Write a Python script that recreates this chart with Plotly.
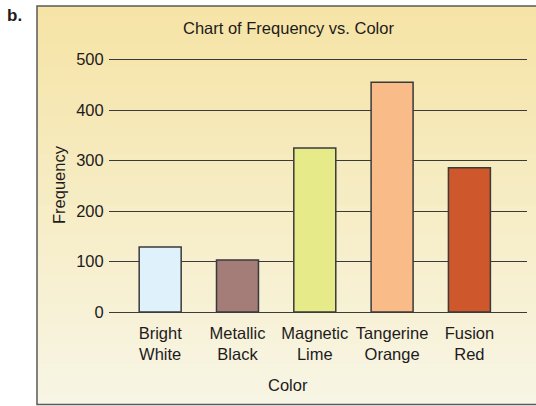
import plotly.graph_objects as go

categories = ["Bright<br>White", "Metallic<br>Black", "Magnetic<br>Lime", "Tangerine<br>Orange", "Fusion<br>Red"]
frequencies = [129, 103, 325, 455, 286]
bar_colors = ["#DFF1FA", "#A57D78", "#E6EA88", "#F9BC88", "#CE572B"]
y_ticks = [0, 100, 200, 300, 400, 500]

W, H = 536, 406
ML, MR, MT, MB = 109, 9, 58, 94
PW, PH = W - ML - MR, H - MT - MB
YMAX = PH / 0.5047

def px_x(p):
    return (p - ML) / PW

def px_y(p):
    return (H - MB - p) / PH

FONT = "Liberation Sans, Arial, sans-serif"
TXT = "#1e1b1c"

fig = go.Figure()
fig.add_trace(go.Bar(
    x=list(range(len(categories))),
    y=frequencies,
    width=0.543,
    marker=dict(color=bar_colors, line=dict(color="#3a3a3a", width=1.5)),
    hoverinfo="skip",
))

# gradient background panel
shapes = []
top_c = (246, 228, 166)
bot_c = (247, 245, 228)
y0p, y1p = 6, 404
n = 40
for i in range(n):
    t = i / (n - 1)
    c = tuple(round(top_c[k] + (bot_c[k] - top_c[k]) * t) for k in range(3))
    ya = y0p + (y1p - y0p) * i / n
    yb = y0p + (y1p - y0p) * (i + 1) / n + 0.6
    shapes.append(dict(type="rect", xref="paper", yref="paper",
                       x0=px_x(37), x1=px_x(540), y0=px_y(min(yb, y1p)), y1=px_y(ya),
                       fillcolor="rgb(%d,%d,%d)" % c, line=dict(width=0), layer="below"))
shapes.append(dict(type="rect", xref="paper", yref="paper",
                   x0=px_x(37), x1=px_x(541), y0=px_y(404.5), y1=px_y(6),
                   fillcolor="rgba(0,0,0,0)", line=dict(color="#5a5a5a", width=1.5), layer="above"))

annotations = [
    dict(text="Chart of Frequency vs. Color", xref="paper", yref="paper",
         x=px_x(288.5), y=px_y(28.5), showarrow=False, xanchor="center", yanchor="middle",
         font=dict(family=FONT, size=16.5, color=TXT)),
    dict(text="Color", xref="paper", yref="paper",
         x=px_x(288), y=px_y(385), showarrow=False, xanchor="center", yanchor="middle",
         font=dict(family=FONT, size=16.5, color=TXT)),
    dict(text="<b>b.</b>", xref="paper", yref="paper",
         x=px_x(5), y=px_y(15), showarrow=False, xanchor="left", yanchor="middle",
         font=dict(family=FONT, size=17, color=TXT)),
]

fig.update_layout(
    width=W, height=H,
    margin=dict(l=ML, r=MR, t=MT, b=MB, pad=0),
    paper_bgcolor="white",
    plot_bgcolor="rgba(0,0,0,0)",
    showlegend=False,
    shapes=shapes,
    annotations=annotations,
    font=dict(family=FONT, size=16, color=TXT),
    xaxis=dict(
        range=[-0.662, 4.745],
        tickmode="array",
        tickvals=list(range(len(categories))),
        ticktext=categories,
        showgrid=False, zeroline=False, showline=False,
        ticks="outside", ticklen=6, tickcolor="rgba(0,0,0,0)",
        tickfont=dict(family=FONT, size=16.5, color=TXT),
        automargin=False,
        fixedrange=True,
    ),
    yaxis=dict(
        range=[0, YMAX],
        tickmode="array",
        tickvals=y_ticks,
        showgrid=True, gridcolor="#3a3a3a", gridwidth=1.3,
        zeroline=True, zerolinecolor="#3a3a3a", zerolinewidth=1.3,
        showline=False,
        ticks="outside", ticklen=1, tickcolor="rgba(0,0,0,0)",
        tickfont=dict(family=FONT, size=16.5, color=TXT),
        title=dict(text="Frequency", font=dict(family=FONT, size=16.5, color=TXT), standoff=6),
        automargin=False,
        fixedrange=True,
    ),
)

fig.write_html("out.html", config={"displayModeBar": False},
               post_script="document.body.style.margin='0';")
